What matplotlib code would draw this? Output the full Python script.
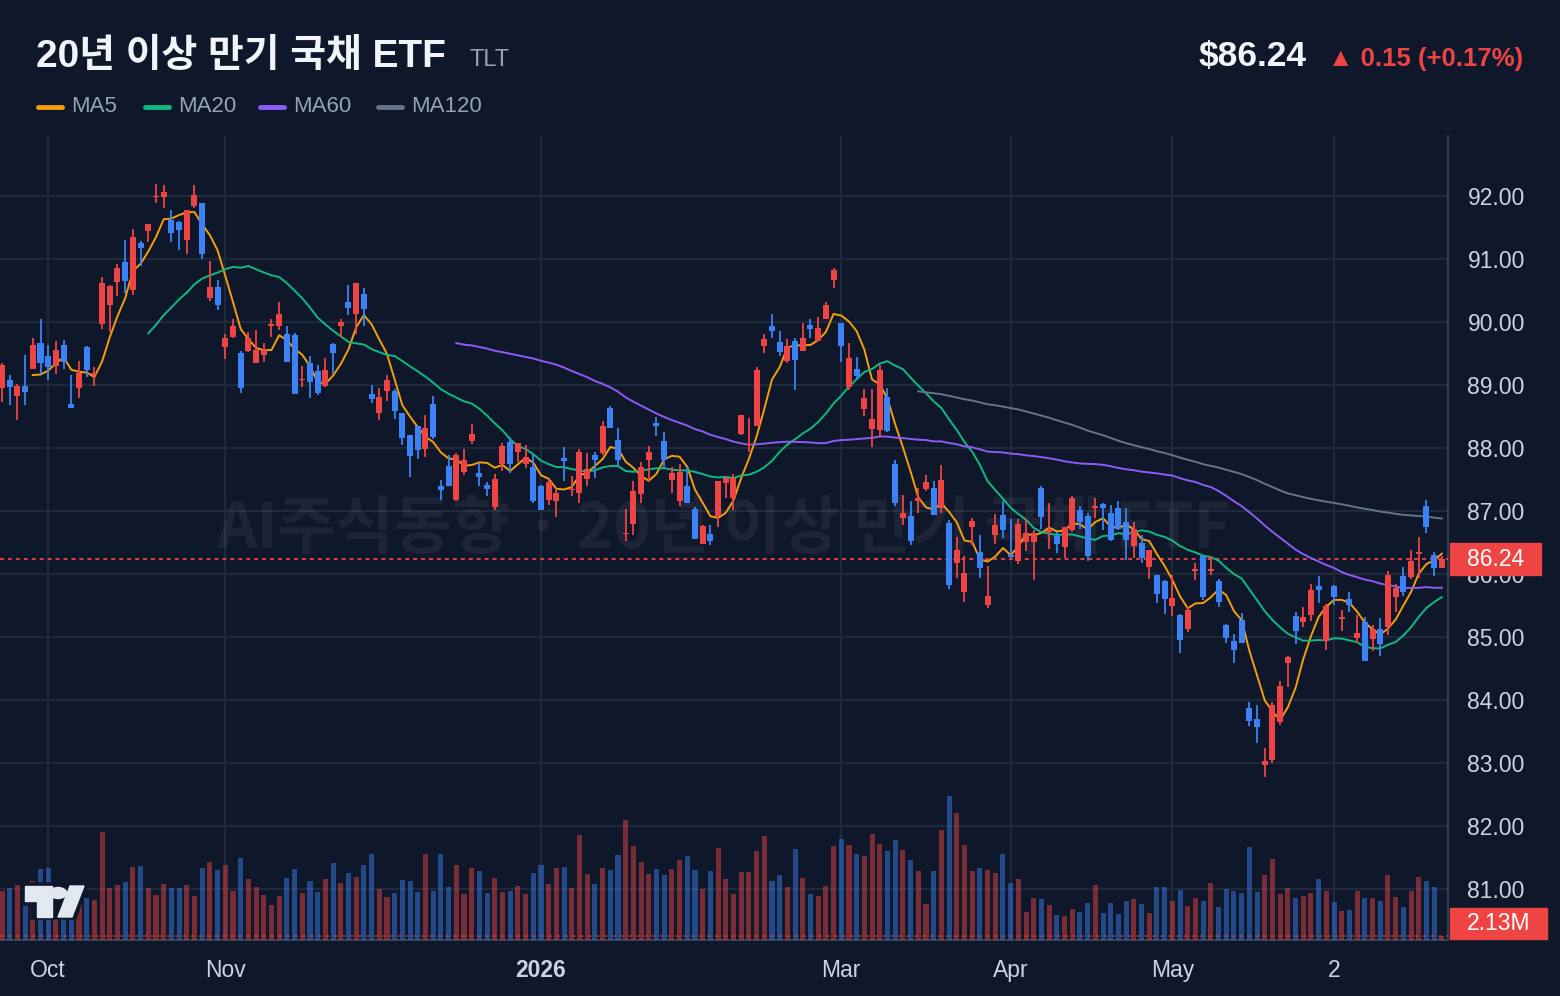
import matplotlib
matplotlib.use('Agg')
import matplotlib.pyplot as plt
from matplotlib.patches import Rectangle, Circle, Polygon
from matplotlib.lines import Line2D
import numpy as np
import pandas as pd

plt.rcParams['font.family'] = ['Liberation Sans', 'Noto Sans CJK KR', 'DejaVu Sans']

title = '20년 이상 만기 국채 ETF'
ticker = 'TLT'
last_price = 86.24
change_txt = '▲ 0.15 (+0.17%)'
watermark = 'AI주식동향 · 20년 이상 만기 국채 ETF'
last_vol_txt = '2.13M'

# daily OHLC (USD)
opens = [88.95, 89.07, 88.82, 88.99, 89.26, 89.66, 89.46, 89.30, 89.63, 88.70,
         88.95, 89.60, 89.15, 89.96, 90.26, 90.63, 90.95, 90.50, 91.25, 91.44,
         91.98, 91.98, 91.61, 91.59, 91.30, 91.84, 91.88, 90.38, 90.56, 89.60,
         89.76, 89.51, 89.53, 89.35, 89.48, 89.94, 89.94, 89.80, 89.79, 89.07,
         89.35, 89.22, 88.98, 89.65, 89.94, 90.31, 90.13, 90.45, 88.85, 88.56,
         88.91, 88.90, 88.56, 88.20, 88.35, 87.98, 88.70, 87.39, 87.71, 87.17,
         87.62, 88.11, 87.60, 87.41, 87.06, 87.74, 88.10, 87.94, 87.74, 87.69,
         87.40, 87.17, 87.15, 87.84, 87.33, 87.29, 87.50, 87.89, 87.92, 88.64,
         88.12, 86.63, 86.80, 87.27, 87.81, 88.39, 88.11, 87.49, 87.15, 87.39,
         87.03, 86.48, 86.63, 86.92, 87.45, 87.20, 88.22, 88.04, 88.34, 89.62,
         89.94, 89.68, 89.38, 89.70, 89.54, 89.95, 89.70, 90.05, 90.67, 89.99,
         88.97, 89.26, 88.62, 88.30, 88.29, 88.81, 87.74, 86.88, 86.92, 87.16,
         87.34, 87.36, 87.04, 86.81, 86.18, 85.72, 86.74, 86.34, 85.50, 86.62,
         86.94, 86.29, 86.20, 86.50, 86.51, 87.36, 86.67, 86.60, 86.43, 86.69,
         87.02, 86.92, 87.04, 87.11, 86.96, 87.04, 86.82, 86.45, 86.49, 86.11,
         85.98, 85.89, 85.49, 85.35, 85.13, 86.05, 86.29, 86.05, 85.89, 85.19,
         84.93, 85.27, 83.87, 83.69, 82.96, 83.05, 83.65, 84.59, 85.33, 85.23,
         85.35, 85.81, 84.93, 85.81, 85.29, 85.60, 84.99, 85.23, 84.96, 85.12,
         85.16, 85.64, 85.97, 85.95, 86.32, 87.08, 86.30, 86.09]
highs = [89.35, 89.15, 89.02, 89.47, 89.74, 90.04, 89.63, 89.69, 89.72, 89.15,
         89.38, 89.61, 89.28, 90.71, 90.58, 90.92, 91.30, 91.48, 91.28, 91.55,
         92.19, 92.17, 91.78, 91.60, 91.78, 92.17, 91.88, 90.96, 90.66, 89.81,
         90.05, 89.53, 89.84, 89.87, 89.66, 90.05, 90.31, 89.93, 89.83, 89.30,
         89.46, 89.31, 89.42, 89.67, 90.05, 90.58, 90.62, 90.53, 89.00, 88.95,
         89.16, 88.94, 88.56, 88.21, 88.35, 88.52, 88.83, 87.49, 87.89, 87.92,
         87.98, 88.38, 87.76, 87.46, 87.58, 88.07, 88.17, 88.07, 88.05, 87.90,
         87.41, 87.51, 87.33, 88.01, 87.56, 87.99, 87.92, 87.93, 88.43, 88.67,
         88.31, 87.03, 87.47, 87.77, 88.03, 88.49, 88.25, 87.69, 87.75, 87.69,
         87.06, 86.78, 86.78, 87.48, 87.54, 87.58, 88.53, 88.47, 89.28, 89.80,
         90.12, 89.86, 89.73, 89.74, 89.99, 90.05, 90.07, 90.31, 90.85, 89.99,
         89.66, 89.44, 88.94, 88.94, 89.32, 88.95, 87.81, 87.25, 87.15, 87.36,
         87.57, 87.48, 87.73, 86.86, 86.58, 86.28, 86.88, 86.62, 86.12, 86.95,
         87.16, 86.87, 86.87, 86.87, 86.69, 87.39, 87.13, 86.67, 86.75, 87.24,
         87.08, 86.96, 87.20, 87.12, 87.10, 87.16, 87.04, 86.82, 86.61, 86.38,
         85.99, 85.90, 85.99, 85.37, 85.48, 86.17, 86.30, 86.29, 85.92, 85.21,
         85.05, 85.38, 83.96, 83.92, 83.23, 83.97, 84.30, 84.70, 85.39, 85.48,
         85.84, 85.97, 85.53, 85.83, 85.43, 85.72, 85.35, 85.32, 85.19, 85.30,
         86.05, 85.84, 86.11, 86.38, 86.58, 87.17, 86.34, 86.28]
lows = [88.73, 88.68, 88.44, 88.68, 89.25, 89.18, 89.07, 89.17, 89.25, 88.63,
        88.79, 89.12, 88.98, 89.88, 89.84, 90.41, 90.46, 90.42, 90.89, 91.27,
        91.89, 91.81, 91.27, 91.14, 91.08, 91.80, 91.00, 90.33, 90.19, 89.41,
        89.74, 88.87, 89.52, 89.35, 89.37, 89.76, 89.87, 89.37, 88.85, 88.97,
        88.79, 88.84, 88.97, 89.18, 89.76, 90.11, 89.81, 89.94, 88.71, 88.44,
        88.74, 88.46, 88.04, 87.54, 87.83, 87.85, 88.14, 87.17, 87.39, 87.16,
        87.57, 88.06, 87.40, 87.24, 87.02, 87.64, 87.60, 87.78, 87.68, 87.12,
        87.01, 87.10, 86.90, 87.47, 87.24, 87.12, 87.40, 87.53, 87.89, 88.31,
        87.71, 86.53, 86.62, 87.12, 87.48, 88.19, 87.69, 87.28, 87.07, 87.12,
        86.55, 86.48, 86.46, 86.74, 87.20, 87.02, 88.21, 87.94, 88.34, 89.50,
        89.75, 89.46, 89.35, 88.92, 89.53, 89.75, 89.70, 90.05, 90.54, 89.36,
        88.92, 89.08, 88.50, 88.01, 88.18, 88.26, 87.07, 86.77, 86.46, 86.96,
        87.31, 86.93, 86.96, 85.76, 85.93, 85.56, 86.46, 85.93, 85.46, 86.48,
        86.57, 86.26, 86.15, 86.37, 85.90, 86.71, 86.39, 86.33, 86.25, 86.67,
        86.72, 86.20, 86.88, 86.70, 86.53, 86.70, 86.22, 86.25, 86.18, 85.92,
        85.54, 85.37, 85.33, 84.75, 85.08, 85.90, 85.59, 85.98, 85.48, 84.91,
        84.58, 84.90, 83.58, 83.31, 82.77, 83.00, 83.60, 84.20, 84.89, 85.15,
        85.26, 85.54, 84.79, 85.51, 85.10, 85.40, 84.91, 84.61, 84.77, 84.69,
        85.03, 85.40, 85.65, 85.92, 85.93, 86.65, 85.96, 86.09]
closes = [89.31, 88.97, 88.98, 88.89, 89.63, 89.35, 89.29, 89.55, 89.37, 88.64,
          89.19, 89.23, 89.19, 90.61, 90.57, 90.86, 90.65, 91.35, 91.18, 91.55,
          92.00, 92.06, 91.41, 91.46, 91.77, 92.01, 91.08, 90.56, 90.26, 89.74,
          89.93, 88.95, 89.75, 89.56, 89.55, 89.96, 90.12, 89.37, 88.85, 89.09,
          89.05, 88.87, 89.23, 89.50, 90.00, 90.22, 90.62, 90.20, 88.77, 88.80,
          89.07, 88.58, 88.16, 87.87, 87.96, 88.31, 88.17, 87.33, 87.39, 87.89,
          87.81, 88.22, 87.54, 87.35, 87.51, 88.03, 87.74, 88.07, 87.85, 87.15,
          87.02, 87.46, 87.28, 87.79, 87.35, 87.94, 87.67, 87.81, 88.34, 88.31,
          87.80, 86.65, 87.32, 87.69, 87.93, 88.35, 87.80, 87.60, 87.62, 87.12,
          86.55, 86.76, 86.53, 87.48, 87.53, 87.53, 88.53, 88.06, 89.24, 89.73,
          89.86, 89.52, 89.62, 89.40, 89.74, 89.89, 89.90, 90.27, 90.83, 89.61,
          89.42, 89.14, 88.79, 88.46, 89.24, 88.27, 87.12, 86.97, 86.53, 87.20,
          87.46, 86.94, 87.49, 85.83, 86.38, 86.01, 86.84, 86.10, 85.65, 86.78,
          86.69, 86.27, 86.79, 86.65, 86.65, 86.90, 86.69, 86.48, 86.74, 87.20,
          86.83, 86.28, 87.07, 87.04, 86.54, 86.72, 86.54, 86.71, 86.26, 86.38,
          85.68, 85.60, 85.61, 84.95, 85.43, 86.07, 85.63, 86.07, 85.56, 84.99,
          84.80, 84.91, 83.66, 83.57, 83.03, 83.92, 84.22, 84.68, 85.10, 85.31,
          85.75, 85.75, 85.49, 85.64, 85.31, 85.51, 85.06, 84.61, 85.12, 84.89,
          85.98, 85.78, 85.72, 86.20, 86.34, 86.74, 86.09, 86.24]
# daily volume (millions of shares)
volumes = [24.5, 26.0, 27.5, 18.5, 29.5, 35.5, 36.0, 25.0, 22.0, 27.0,
           23.0, 21.0, 20.0, 54.0, 26.0, 27.5, 29.0, 36.5, 37.0, 26.0,
           22.5, 28.0, 26.0, 26.0, 27.5, 22.0, 36.0, 39.0, 35.0, 37.5,
           24.5, 41.0, 30.5, 26.5, 22.5, 17.5, 22.0, 31.0, 35.5, 23.5,
           29.5, 24.0, 30.5, 38.5, 28.5, 33.5, 31.5, 37.5, 43.0, 25.5,
           21.5, 23.5, 30.0, 29.5, 24.0, 43.0, 24.5, 43.0, 26.5, 37.5,
           23.0, 36.0, 34.5, 23.5, 31.0, 24.0, 24.5, 27.0, 23.0, 33.5,
           37.5, 28.0, 36.0, 36.5, 26.0, 52.5, 33.0, 28.0, 36.0, 35.0,
           42.5, 60.0, 47.0, 39.0, 33.0, 35.5, 32.5, 35.5, 40.0, 42.0,
           35.0, 25.5, 34.5, 46.0, 30.5, 23.0, 34.0, 34.0, 44.5, 52.0,
           29.5, 32.5, 26.5, 45.5, 31.0, 23.0, 22.0, 27.0, 47.0, 50.5,
           47.5, 43.0, 42.0, 53.0, 48.0, 44.5, 50.0, 45.0, 40.0, 34.5,
           18.0, 34.5, 55.0, 72.0, 63.5, 47.5, 34.5, 36.0, 35.0, 33.5,
           43.0, 28.5, 30.5, 14.0, 21.0, 20.5, 17.5, 12.5, 12.0, 15.5,
           14.0, 18.5, 27.5, 13.5, 18.5, 13.0, 19.5, 20.5, 18.0, 13.5,
           26.5, 26.5, 19.5, 25.0, 17.0, 21.0, 19.5, 28.5, 16.5, 25.5,
           24.5, 23.5, 46.5, 24.0, 32.5, 40.5, 23.0, 26.0, 21.0, 22.0,
           23.5, 30.5, 24.5, 19.0, 14.5, 15.0, 24.5, 21.0, 21.0, 19.5,
           32.5, 21.5, 16.5, 24.5, 31.5, 29.5, 26.5, 2.13]

month_pos = [6, 29, 70, 109, 131, 152, 173]
month_labels = ['Oct', 'Nov', '2026', 'Mar', 'Apr', 'May', '2']
price_ticks = [81, 82, 83, 84, 85, 86, 87, 88, 89, 90, 91, 92]
ma_windows = [5, 20, 60, 120]
ma_names = ['MA5', 'MA20', 'MA60', 'MA120']
ma_colors = ['#f59e0b', '#10b981', '#8b5cf6', '#64748b']

BG = '#0f172a'
GRID = '#1e293b'
UP = '#ef4444'
DOWN = '#3b82f6'
W, H = 1560, 996

o = np.array(opens)
h = np.array(highs)
l = np.array(lows)
c = np.array(closes)
v = np.array(volumes)
idx = np.arange(len(c))
up = c >= o
col = np.where(up, UP, DOWN)

fig = plt.figure(figsize=(W / 100, H / 100), dpi=100)
fig.patch.set_facecolor(BG)

rect = [0, 1 - 940 / H, 1448 / W, (940 - 136) / H]
ax = fig.add_axes(rect)
ax.set_facecolor(BG)
ax.set_xlim(-0.26, 187.8)
ax.set_ylim(80.19, 92.95)

# grid
ax.set_xticks(month_pos)
ax.set_xticklabels(month_labels)
ax.set_yticks(price_ticks)
ax.set_yticklabels([f'{t:.2f}' for t in price_ticks])
ax.yaxis.tick_right()
ax.grid(True, color=GRID, lw=1.6, zorder=0)
ax.set_axisbelow(True)
ax.tick_params(axis='both', length=0, labelcolor='#cbd5e1', labelsize=16.5)
ax.tick_params(axis='y', pad=14)
ax.tick_params(axis='x', pad=14)
ax.get_xticklabels()[2].set_fontweight('bold')
for s in ['top', 'left']:
    ax.spines[s].set_visible(False)
for s in ['right', 'bottom']:
    ax.spines[s].set_color('#334155')
    ax.spines[s].set_linewidth(1.5)

# watermark
ax.text(0.5, 0.51, watermark, transform=ax.transAxes, ha='center', va='center',
        fontsize=45.5, fontweight='bold', color='white', alpha=0.06,
        family=['Noto Sans CJK KR'], zorder=1)

# moving averages
cs = pd.Series(c)
for win, mc in zip(ma_windows, ma_colors):
    ax.plot(idx, cs.rolling(win).mean(), color=mc, lw=1.4, zorder=4)

# candles
ax.vlines(idx, l, h, colors=col, lw=1.3, zorder=5)
body_lo = np.minimum(o, c)
body_h = np.maximum(np.abs(c - o), 0.025)
ax.bar(idx, body_h, bottom=body_lo, width=0.78, color=col, zorder=6)

ax.axhline(last_price, color=UP, lw=1.3, ls=(0, (2.2, 2.2)), zorder=3)

# volume pane
axv = fig.add_axes(rect, sharex=ax)
axv.patch.set_alpha(0)
axv.set_ylim(0, 402)
axv.axis('off')
axv.bar(idx, v, width=0.66, color=col, alpha=0.47, zorder=2)
axv.axhline(v[-1], color=UP, alpha=0.5, lw=1.3, ls=(0, (2.2, 2.2)))

# price / volume labels on right axis
def fx(x):
    return x / W

def fy(y):
    return 1 - y / H

fig.add_artist(Rectangle((fx(1450), fy(575)), fx(91), 32 / H, color=UP,
                         transform=fig.transFigure))
fig.text(fx(1496), fy(559), f'{last_price:.2f}', color='white', fontsize=16.5,
         ha='center', va='center')
fig.add_artist(Rectangle((fx(1450), fy(939)), fx(97), 31 / H, color=UP,
                         transform=fig.transFigure))
fig.text(fx(1499), fy(923), last_vol_txt, color='white', fontsize=16.5,
         ha='center', va='center')

# header
fig.text(fx(36), fy(67), title, color='#f1f5f9', fontsize=28, fontweight='bold',
         family=['Liberation Sans', 'Noto Sans CJK KR'], ha='left', va='baseline')
fig.text(fx(469), fy(66), ticker, color='#94a3b8', fontsize=17, ha='left',
         va='baseline')
fig.text(fx(1307), fy(66), f'${last_price:.2f}', color='#f1f5f9', fontsize=25.5,
         fontweight='bold', ha='right', va='baseline')
fig.text(fx(1523), fy(66), change_txt, color=UP, fontsize=18.5, fontweight='bold',
         ha='right', va='baseline', family=['Liberation Sans', 'DejaVu Sans'])

# legend
leg_x = [36, 143, 258, 376]
for lx, name, mc in zip(leg_x, ma_names, ma_colors):
    fig.add_artist(Line2D([fx(lx + 2), fx(lx + 26)], [fy(107), fy(107)], color=mc,
                          lw=3.5, solid_capstyle='round', transform=fig.transFigure))
    fig.text(fx(lx + 35), fy(107), name, color='#94a3b8', fontsize=16,
             ha='left', va='center')

# tradingview logo
fig.add_artist(Polygon([(fx(22), fy(883)), (fx(88), fy(883)), (fx(76), fy(919)),
                        (fx(31), fy(919)), (fx(31), fy(905)), (fx(22), fy(905))],
                       closed=True, color=BG, transform=fig.transFigure))
fig.add_artist(Polygon([(fx(25), fy(886)), (fx(52), fy(886)), (fx(52), fy(917)),
                        (fx(37), fy(917)), (fx(37), fy(901)), (fx(25), fy(901))],
                       closed=True, color='#e2e8f0', transform=fig.transFigure))
fig.add_artist(Circle((fx(58), fy(893)), 5.5 / H, color='#e2e8f0',
                      transform=fig.transFigure))
fig.add_artist(Polygon([(fx(70), fy(886)), (fx(84), fy(886)), (fx(72), fy(917)),
                        (fx(58), fy(917))],
                       closed=True, color='#e2e8f0', transform=fig.transFigure))

fig.savefig('out.png', dpi=100, facecolor=BG)
